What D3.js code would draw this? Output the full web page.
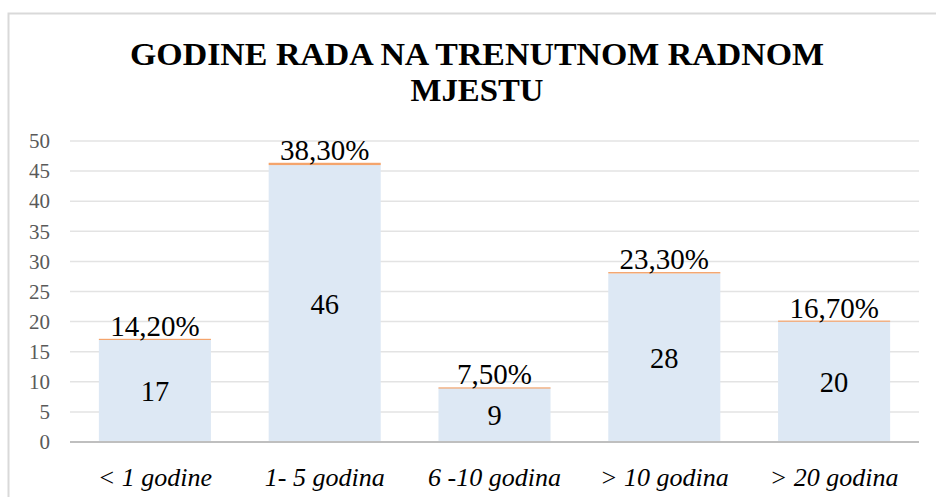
<!DOCTYPE html>
<html><head><meta charset="utf-8">
<script src="https://cdn.jsdelivr.net/npm/d3@7"></script>
<style>body{margin:0;background:#fff}svg{display:block}
svg text{font-family:"Liberation Serif","Times New Roman",Tinos,"DejaVu Serif",serif}</style>
</head><body><svg id="c" width="936" height="497"></svg>
<script>
const categories = ["< 1 godine", "1- 5 godina", "6 -10 godina", "> 10 godina", "> 20 godina"];
const counts = [17, 46, 9, 28, 20];
const percents = [0.142, 0.383, 0.075, 0.233, 0.167];
const percentLabels = ["14,20%", "38,30%", "7,50%", "23,30%", "16,70%"];
const yTicks = [0, 5, 10, 15, 20, 25, 30, 35, 40, 45, 50];
const titleLines = ["GODINE RADA NA TRENUTNOM RADNOM", "MJESTU"];

(function () {
const svg = d3.select("#c");
svg.append("rect").attr("x", 8.5).attr("y", 13.5).attr("width", 940).attr("height", 500)
  .attr("fill", "#fff").attr("stroke", "#d9d9d9").attr("stroke-width", 2);

const titleWidths = [694, 133];
svg.append("g").selectAll("text").data(titleLines).join("text")
  .attr("x", 477).attr("y", (d, i) => 65 + i * 36)
  .attr("text-anchor", "middle").attr("font-weight", "bold")
  .attr("textLength", (d, i) => titleWidths[i]).attr("lengthAdjust", "spacingAndGlyphs")
  .attr("font-size", 30.5).attr("fill", "#000").text(d => d);

const mLeft = 70, mRight = 919, mTop = 141, mBottom = 442;
const x = d3.scaleBand().domain(categories).range([mLeft, mRight]).paddingInner(0.34).paddingOuter(0.17);
const y = d3.scaleLinear().domain([0, 50]).range([mBottom, mTop]);

svg.append("g").selectAll("line").data(yTicks.filter(t => t > 0)).join("line")
  .attr("x1", mLeft).attr("x2", mRight).attr("y1", d => y(d)).attr("y2", d => y(d))
  .attr("stroke", "#e3e3e3").attr("stroke-width", 1.5);

const yAxis = d3.axisLeft(y).tickValues(yTicks).tickSize(0).tickPadding(0);
const ya = svg.append("g").attr("transform", `translate(${mLeft - 20},0)`).call(yAxis);
ya.select(".domain").remove();
ya.attr("font-family", null);
ya.selectAll("text").attr("font-size", 21).attr("fill", "#595959");

const stackData = categories.map((c, i) => ({cat: c, count: counts[i], pct: percents[i]}));
const series = d3.stack().keys(["count", "pct"])(stackData);
const colors = {count: "#dde8f4", pct: "#f4a46c"};
svg.append("g").selectAll("g").data(series).join("g").attr("fill", d => colors[d.key])
  .selectAll("rect").data(d => d).join("rect")
  .attr("x", d => x(d.data.cat)).attr("width", x.bandwidth())
  .attr("y", d => y(d[1])).attr("height", d => Math.max(y(d[0]) - y(d[1]), 1.2));

const xa = svg.append("g").attr("transform", `translate(0,${mBottom})`)
  .call(d3.axisBottom(x).tickSize(0).tickPadding(26));
xa.attr("font-family", null);
xa.select(".domain").attr("stroke", "#bfbfbf").attr("stroke-width", 2).attr("d", `M${mLeft},0H${mRight}`);
xa.selectAll("text").attr("font-style", "italic").attr("font-size", 26).attr("fill", "#000");

svg.append("g").selectAll("text").data(stackData).join("text")
  .attr("x", d => x(d.cat) + x.bandwidth() / 2)
  .attr("y", d => y(d.count / 2)).attr("dy", "0.36em")
  .attr("text-anchor", "middle").attr("font-size", 28.5).attr("fill", "#000")
  .text(d => d.count);

svg.append("g").selectAll("text").data(stackData).join("text")
  .attr("x", d => x(d.cat) + x.bandwidth() / 2)
  .attr("y", d => y(d.count + d.pct) - 3)
  .attr("text-anchor", "middle").attr("font-size", 29).attr("fill", "#000")
  .text((d, i) => percentLabels[i]);
})();
</script></body></html>
